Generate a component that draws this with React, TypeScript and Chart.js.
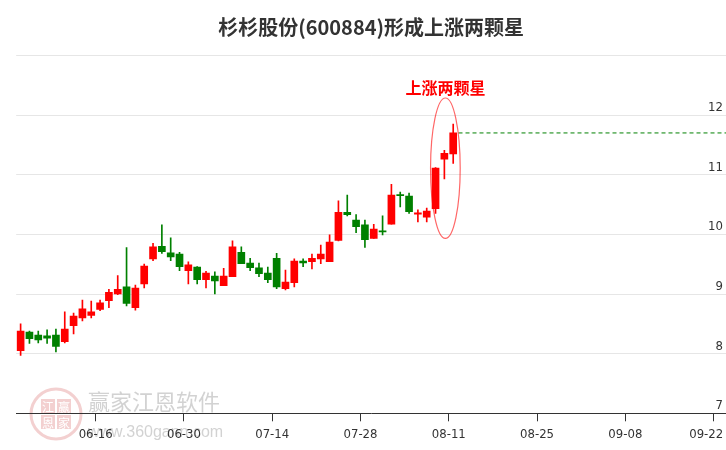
import React, { useEffect, useRef } from "react";
import { Chart, registerables } from "chart.js";

Chart.register(...registerables);

// ---- data ----
const dates = [
  "06-03", "06-04", "06-05", "06-06", "06-09", "06-10", "06-11", "06-12", "06-13", "06-16",
  "06-17", "06-18", "06-19", "06-20", "06-23", "06-24", "06-25", "06-26", "06-27", "06-30",
  "07-01", "07-02", "07-03", "07-04", "07-07", "07-08", "07-09", "07-10", "07-11", "07-14",
  "07-15", "07-16", "07-17", "07-18", "07-21", "07-22", "07-23", "07-24", "07-25", "07-28",
  "07-29", "07-30", "07-31", "08-01", "08-04", "08-05", "08-06", "08-07", "08-08", "08-11",
];
const opens = [
  8.05, 8.36, 8.31, 8.30, 8.31, 8.20, 8.47, 8.60, 8.64, 8.74,
  8.89, 9.00, 9.12, 8.77, 9.17, 9.59, 9.80, 9.69, 9.67, 9.39,
  9.45, 9.24, 9.30, 9.14, 9.29, 9.70, 9.52, 9.44, 9.35, 9.60,
  9.09, 9.19, 9.55, 9.54, 9.59, 9.54, 9.90, 10.37, 10.24, 10.16,
  9.93, 10.06, 10.17, 10.66, 10.64, 10.34, 10.29, 10.43, 11.26, 11.35,
];
const highs = [
  8.50, 8.38, 8.38, 8.40, 8.41, 8.70, 8.68, 8.90, 8.88, 8.90,
  9.08, 9.31, 9.78, 9.15, 9.50, 9.85, 10.16, 9.94, 9.70, 9.54,
  9.46, 9.38, 9.37, 9.43, 9.89, 9.79, 9.60, 9.52, 9.45, 9.68,
  9.40, 9.59, 9.59, 9.67, 9.82, 9.99, 10.56, 10.66, 10.33, 10.24,
  10.17, 10.31, 10.84, 10.71, 10.69, 10.41, 10.44, 11.12, 11.41, 11.85,
];
const lows = [
  7.97, 8.17, 8.18, 8.17, 8.03, 8.18, 8.33, 8.55, 8.60, 8.72,
  8.77, 8.99, 8.80, 8.73, 9.10, 9.56, 9.68, 9.56, 9.39, 9.17,
  9.17, 9.10, 9.00, 9.14, 9.29, 9.51, 9.39, 9.29, 9.19, 9.09,
  9.07, 9.12, 9.46, 9.42, 9.51, 9.54, 9.89, 10.31, 10.03, 9.78,
  9.93, 9.99, 10.17, 10.46, 10.35, 10.21, 10.21, 10.35, 10.93, 11.19,
];
const closes = [
  8.38, 8.25, 8.23, 8.26, 8.12, 8.41, 8.63, 8.75, 8.70, 8.85,
  9.03, 9.08, 8.84, 9.10, 9.47, 9.79, 9.71, 9.62, 9.46, 9.49,
  9.24, 9.35, 9.22, 9.30, 9.79, 9.51, 9.44, 9.34, 9.24, 9.12,
  9.20, 9.55, 9.52, 9.60, 9.67, 9.87, 10.37, 10.33, 10.13, 9.91,
  10.09, 10.04, 10.66, 10.65, 10.38, 10.36, 10.39, 11.11, 11.36, 11.70,
];
const tickIndexes = [9, 19, 29, 39, 49, 59, 69, 79];
const tickLabels = ["06-16", "06-30", "07-14", "07-28", "08-11", "08-25", "09-08", "09-22"];
const patternIndexes = [47, 48, 49];
const titleText = "杉杉股份(600884)形成上涨两颗星";
const patternText = "上涨两颗星";
const watermarkName = "赢家江恩软件";
const watermarkUrl = "www.360gann.com";
const sealChars = ["江", "赢", "恩", "家"];

const UP = "#ff0000";
const DOWN = "#008000";
const AXIS_FONT = "'Liberation Sans Narrow', 'DejaVu Sans Condensed', 'Liberation Sans', sans-serif";
const CJK = "'Noto Sans CJK SC', sans-serif";

const watermarkPlugin = {
  id: "watermark",
  beforeDraw(chart: any) {
    const ctx = chart.ctx;
    ctx.save();
    ctx.fillStyle = "#ffffff";
    ctx.fillRect(0, 0, chart.width, chart.height);
    // seal
    const cx = 56, cy = 414, r = 25;
    ctx.strokeStyle = "rgba(200,40,40,0.22)";
    ctx.lineWidth = 3;
    ctx.beginPath();
    ctx.arc(cx, cy, r, 0, Math.PI * 2);
    ctx.stroke();
    const s = 14;
    for (let k = 0; k < 4; k++) {
      const col = k % 2, row = Math.floor(k / 2);
      const x0 = cx - s - 1 + col * (s + 2);
      const y0 = cy - s - 1 + row * (s + 2);
      ctx.fillStyle = "rgba(200,40,40,0.22)";
      ctx.fillRect(x0, y0, s, s);
      ctx.fillStyle = "#ffffff";
      ctx.font = `12px ${CJK}`;
      ctx.textAlign = "center";
      ctx.textBaseline = "middle";
      ctx.fillText(sealChars[k], x0 + s / 2, y0 + s / 2 + 1);
    }
    ctx.fillStyle = "rgba(180,180,180,0.6)";
    ctx.textAlign = "left";
    ctx.textBaseline = "middle";
    ctx.font = `22px ${CJK}`;
    ctx.fillText(watermarkName, 88, 402);
    ctx.font = `16px 'Liberation Sans', sans-serif`;
    ctx.fillText(watermarkUrl, 88, 433);
    ctx.restore();
  },
};

const patternPlugin = {
  id: "pattern",
  afterDatasetsDraw(chart: any) {
    const { ctx, scales } = chart;
    const xs = scales.x, ys = scales.y;
    const first = patternIndexes[0];
    const last = patternIndexes[patternIndexes.length - 1];
    const pHigh = Math.max(...patternIndexes.map((i) => highs[i]));
    const pLow = Math.min(...patternIndexes.map((i) => lows[i]));
    const x1 = xs.getPixelForValue(first);
    const x2 = xs.getPixelForValue(last);
    const cx = (x1 + x2) / 2 + 1;
    const rx = (x2 - x1) / 2 + 6;
    const top = ys.getPixelForValue(pHigh) - 26;
    const bottom = ys.getPixelForValue(pLow) + 25;
    ctx.save();
    ctx.strokeStyle = "rgba(255,0,0,0.6)";
    ctx.lineWidth = 1.2;
    ctx.beginPath();
    ctx.ellipse(cx, (top + bottom) / 2, rx, (bottom - top) / 2, 0, 0, Math.PI * 2);
    ctx.stroke();
    ctx.fillStyle = "#ff0000";
    ctx.font = `bold 16px ${CJK}`;
    ctx.textAlign = "center";
    ctx.textBaseline = "middle";
    ctx.fillText(patternText, cx, top - 10);
    ctx.restore();
  },
};

export default function App() {
  const ref = useRef<HTMLCanvasElement | null>(null);
  useEffect(() => {
    if (!ref.current) return;
    const colors = dates.map((_, i) => (closes[i] >= opens[i] ? UP : DOWN));
    const lastClose = closes[closes.length - 1];
    const chart = new Chart(ref.current, {
      type: "bar",
      data: {
        datasets: [
          {
            type: "bar",
            label: "body",
            data: dates.map((_, i) => ({ x: i, y: [opens[i], closes[i]] })) as any,
            backgroundColor: colors,
            barThickness: 7,
            minBarLength: 1,
            grouped: false,
            borderWidth: 0,
          } as any,
          {
            type: "bar",
            label: "wick",
            data: dates.map((_, i) => ({ x: i, y: [lows[i], highs[i]] })) as any,
            backgroundColor: colors,
            barThickness: 1,
            grouped: false,
            borderWidth: 0,
          } as any,
          {
            type: "line",
            label: "last",
            data: [
              { x: 49.6, y: lastClose },
              { x: 79.9, y: lastClose },
            ],
            borderColor: DOWN,
            borderWidth: 1,
            borderDash: [4, 3],
            pointRadius: 0,
          } as any,
        ],
      },
      options: {
        animation: false,
        responsive: false,
        devicePixelRatio: 1,
        layout: { padding: { left: 16.2, right: 0, top: 0, bottom: 0 } },
        plugins: {
          legend: { display: false },
          tooltip: { enabled: false },
          title: {
            display: true,
            text: titleText,
            color: "#333333",
            font: { size: 20, weight: "bold", family: CJK, lineHeight: 1.2 },
            padding: { top: 15, bottom: 16.4 },
          },
        },
        scales: {
          x: {
            type: "linear",
            min: -0.5,
            max: 79.9,
            offset: false,
            afterBuildTicks: (s: any) => {
              s.ticks = tickIndexes.map((i) => ({ value: i - 0.5 }));
            },
            afterFit: (s: any) => {
              s.height = 36.7;
              s.paddingLeft = 0;
              s.paddingRight = 0;
            },
            ticks: {
              autoSkip: false,
              maxRotation: 0,
              padding: 6,
              color: "#333333",
              font: { size: 13, family: AXIS_FONT },
              // last label is kept inside the canvas edge like the reference
              callback: (_v: any, i: number) =>
                i === tickLabels.length - 1 ? (tickLabels[i] ?? "") + "    " : tickLabels[i] ?? "",
            },
            grid: {
              offset: false,
              drawOnChartArea: false,
              drawTicks: true,
              tickLength: 8,
              color: "#333333",
            },
            border: { display: true, color: "#333333", width: 1 },
          } as any,
          y: {
            position: "right",
            min: 7,
            max: 13,
            afterFit: (s: any) => {
              s.width = 0;
              s.paddingTop = 0;
              s.paddingBottom = 0;
            },
            ticks: {
              stepSize: 1,
              mirror: true,
              padding: -3,
              labelOffset: -7.5,
              color: "#333333",
              font: { size: 13, family: AXIS_FONT },
              callback: (v: any) => (v === 13 ? "" : String(v)),
            },
            grid: { color: "#e6e6e6", drawTicks: false, lineWidth: 1 },
            border: { display: false },
          } as any,
        },
      },
      plugins: [watermarkPlugin, patternPlugin],
    });
    return () => chart.destroy();
  }, []);
  return (
    <div style={{ position: "absolute", left: 0, top: 0, width: 726, height: 450 }}>
      <canvas ref={ref} width={726} height={450} style={{ width: 726, height: 450 }} />
    </div>
  );
}
